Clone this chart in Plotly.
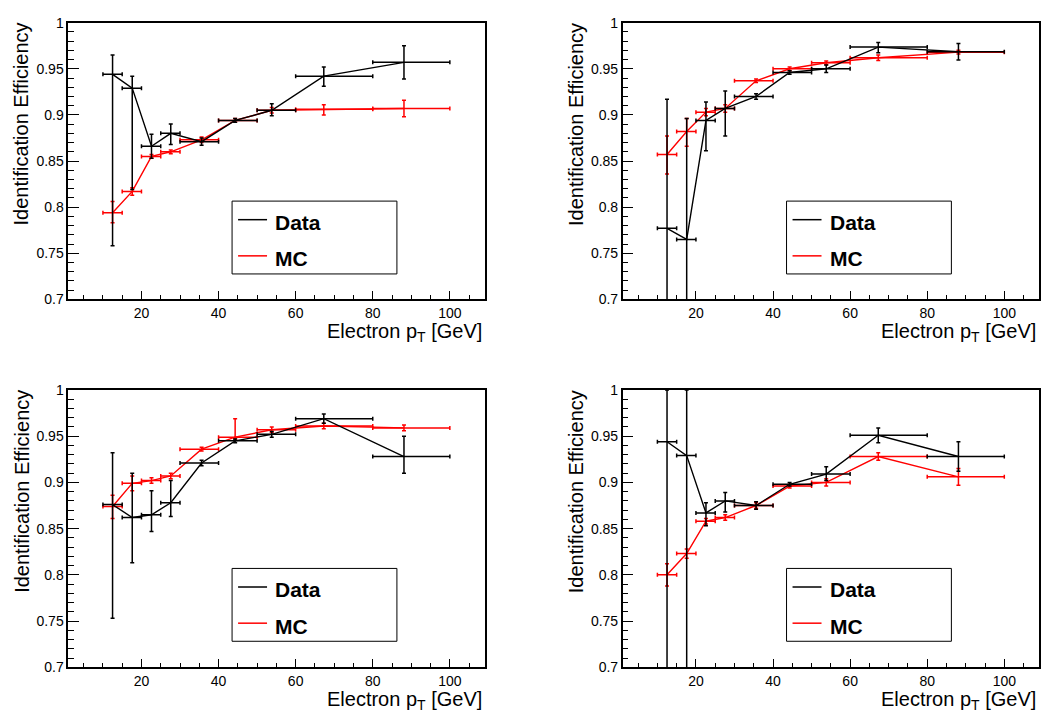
import plotly.graph_objects as go

W, H = 1041, 718

# ---------------- data ----------------
x_pts = [12.5, 17.6, 22.6, 27.6, 35.6, 44.3, 53.8, 67.3, 88.1]
bin_lo = [10, 15, 20, 25, 30, 40, 50, 60, 80]
bin_hi = [15, 20, 25, 30, 40, 50, 60, 80, 100]

# top-left
d1 = [0.944, 0.929, 0.866, 0.880, 0.871, 0.894, 0.905, 0.942, 0.957]
d1_up = [0.021, 0.013, 0.013, 0.010, 0.004, 0.002, 0.007, 0.010, 0.018]
d1_dn = [0.186, 0.110, 0.013, 0.012, 0.004, 0.002, 0.006, 0.011, 0.018]
m1 = [0.794, 0.817, 0.855, 0.860, 0.873, 0.894, 0.905, 0.906, 0.907]
m1_up = [0.012, 0.004, 0.002, 0.002, 0.003, 0.002, 0.003, 0.005, 0.009]
m1_dn = [0.011, 0.004, 0.002, 0.002, 0.003, 0.002, 0.003, 0.006, 0.009]

# top-right
d2 = [0.777, 0.765, 0.894, 0.907, 0.920, 0.946, 0.950, 0.9735, 0.9685]
d2_up = [0.140, 0.131, 0.020, 0.019, 0.003, 0.002, 0.004, 0.005, 0.009]
d2_dn = [0.200, 0.200, 0.033, 0.030, 0.003, 0.002, 0.004, 0.006, 0.009]
m2 = [0.857, 0.882, 0.903, 0.907, 0.937, 0.950, 0.9565, 0.962, 0.968]
m2_up = [0.020, 0.014, 0.004, 0.004, 0.002, 0.002, 0.002, 0.003, 0.002]
m2_dn = [0.021, 0.016, 0.004, 0.004, 0.002, 0.002, 0.002, 0.003, 0.002]

# bottom-left
d3 = [0.876, 0.862, 0.865, 0.878, 0.921, 0.945, 0.952, 0.969, 0.928]
d3_up = [0.056, 0.048, 0.026, 0.024, 0.003, 0.002, 0.003, 0.005, 0.022]
d3_dn = [0.123, 0.049, 0.018, 0.015, 0.003, 0.002, 0.003, 0.005, 0.018]
m3 = [0.874, 0.899, 0.902, 0.907, 0.936, 0.949, 0.957, 0.961, 0.959]
m3_up = [0.012, 0.008, 0.003, 0.003, 0.002, 0.020, 0.003, 0.003, 0.003]
m3_dn = [0.013, 0.008, 0.003, 0.003, 0.002, 0.002, 0.003, 0.003, 0.003]

# bottom-right
d4 = [0.944, 0.929, 0.867, 0.880, 0.875, 0.898, 0.909, 0.951, 0.928]
d4_up = [0.056, 0.071, 0.011, 0.009, 0.004, 0.002, 0.008, 0.008, 0.016]
d4_dn = [0.300, 0.300, 0.014, 0.012, 0.004, 0.002, 0.007, 0.008, 0.016]
m4 = [0.800, 0.823, 0.858, 0.862, 0.875, 0.896, 0.900, 0.928, 0.906]
m4_up = [0.012, 0.005, 0.003, 0.003, 0.003, 0.002, 0.004, 0.004, 0.009]
m4_dn = [0.012, 0.005, 0.003, 0.003, 0.003, 0.002, 0.004, 0.004, 0.009]

y_tickvals = [0.7, 0.75, 0.8, 0.85, 0.9, 0.95, 1.0]
y_ticktext = ["0.7", "0.75", "0.8", "0.85", "0.9", "0.95", "1"]
x_tickvals = [20, 40, 60, 80, 100]
x_ticktext = ["20", "40", "60", "80", "100"]
legend_labels = ["Data", "MC"]
x_title = "Electron p<sub>T</sub> [GeV]"
y_title = "Identification Efficiency"

panels = [
    (d1, d1_up, d1_dn, m1, m1_up, m1_dn),
    (d2, d2_up, d2_dn, m2, m2_up, m2_dn),
    (d3, d3_up, d3_dn, m3, m3_up, m3_dn),
    (d4, d4_up, d4_dn, m4, m4_up, m4_dn),
]

# ---------------- layout geometry (pixels) ----------------
FONT = "Liberation Sans, Arial, Helvetica, sans-serif"
col_px = [(68.3, 485.0), (623.3, 1040.0)]
row_px = [(15.0, 298.0), (390.7, 674.3)]


def px(xp):
    return xp / W


def py(yp):
    return 1 - yp / H


fig = go.Figure()
ex_plus = [h - x for x, h in zip(x_pts, bin_hi)]
ex_minus = [x - l for x, l in zip(x_pts, bin_lo)]

shapes = []
annotations = []
for i, (d, du, dd, m, mu, md) in enumerate(panels):
    r, c = divmod(i, 2)
    xa = "x" if i == 0 else f"x{i+1}"
    ya = "y" if i == 0 else f"y{i+1}"
    for vals, up, dn, color in [(m, mu, md, "#ff0000"), (d, du, dd, "#000000")]:
        fig.add_trace(go.Scatter(
            x=x_pts, y=vals, mode="lines", xaxis=xa, yaxis=ya,
            line=dict(color=color, width=1.4), showlegend=False,
            error_y=dict(type="data", symmetric=False, array=up, arrayminus=dn,
                         color=color, thickness=1.5, width=2),
            error_x=dict(type="data", symmetric=False, array=ex_plus, arrayminus=ex_minus,
                         color=color, thickness=1.5, width=2),
        ))
    x0, x1 = col_px[c]
    y0, y1 = row_px[r]
    axcommon = dict(showline=True, linecolor="#000000", linewidth=1.5, mirror=True,
                    showgrid=False, zeroline=False, ticks="inside",
                    tickcolor="#000000", tickwidth=1,
                    tickfont=dict(family=FONT, size=14, color="#000000"))
    fig.layout[f"xaxis{i+1 if i else ''}"] = dict(
        domain=[px(x0), px(x1)], range=[1, 109], anchor=ya,
        tickmode="array", tickvals=x_tickvals, ticktext=x_ticktext, ticklen=9,
        minor=dict(dtick=5, tick0=0, ticklen=4.5, ticks="inside", tickcolor="#000000", tickwidth=1),
        **axcommon)
    fig.layout[f"yaxis{i+1 if i else ''}"] = dict(
        domain=[py(y1), py(y0)], range=[0.7, 1.0], anchor=xa,
        tickmode="array", tickvals=y_tickvals, ticktext=y_ticktext, ticklen=11,
        minor=dict(dtick=0.01, tick0=0.7, ticklen=6, ticks="inside", tickcolor="#000000", tickwidth=1),
        **axcommon)

    # axis titles
    annotations.append(dict(text=x_title, xref="paper", yref="paper",
                            x=px(x1 - 1), y=py(y1 + 19), xanchor="right", yanchor="top",
                            showarrow=False, font=dict(family=FONT, size=20, color="#000000")))
    annotations.append(dict(text=y_title, xref="paper", yref="paper", textangle=-90,
                            x=px(x0 - 47), y=py(y0 - 2), xanchor="center", yanchor="top",
                            showarrow=False, font=dict(family=FONT, size=20, color="#000000")))

    # legend box (ROOT-style)
    lx0, lx1 = x0 + 164, x0 + 329
    ly0 = y0 + 182.5
    ly1 = ly0 + 74.5
    shapes.append(dict(type="rect", xref="paper", yref="paper",
                       x0=px(lx0), x1=px(lx1), y0=py(ly1), y1=py(ly0),
                       line=dict(color="#000000", width=1), fillcolor="#ffffff", layer="above"))
    for k, (lab, color) in enumerate(zip(legend_labels, ["#000000", "#ff0000"])):
        yy = ly0 + 19 + k * 37
        shapes.append(dict(type="line", xref="paper", yref="paper",
                           x0=px(lx0 + 6), x1=px(lx0 + 35), y0=py(yy), y1=py(yy),
                           line=dict(color=color, width=1.5), layer="above"))
        annotations.append(dict(text=f"<b>{lab}</b>", xref="paper", yref="paper",
                                x=px(lx0 + 41), y=py(yy + 3), xanchor="left", yanchor="middle",
                                showarrow=False, font=dict(family=FONT, size=21, color="#000000")))

fig.update_layout(
    width=W, height=H, margin=dict(l=0, r=0, t=0, b=0),
    paper_bgcolor="#ffffff", plot_bgcolor="#ffffff",
    showlegend=False, shapes=shapes, annotations=annotations,
)

fig.write_html("out.html")
